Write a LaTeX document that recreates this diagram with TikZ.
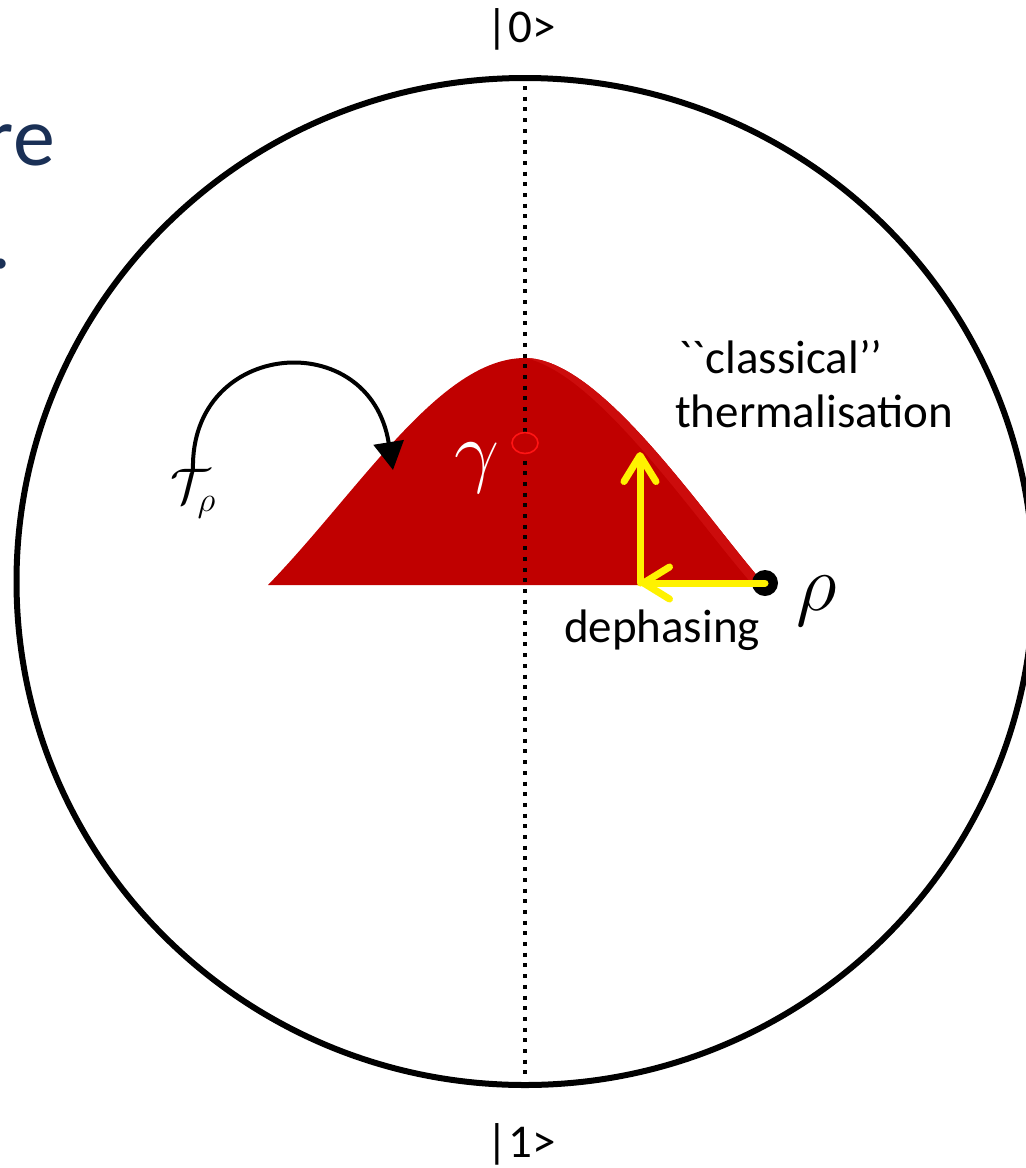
\RequirePackage{fix-cm}
\documentclass[tikz,border=0pt]{standalone}
\usepackage{amsmath}
\usepackage{fontspec}
\setmainfont{Carlito}[Ligatures=TeXOff]
\usepackage{xcolor}
\usetikzlibrary{shapes.geometric,arrows.meta,positioning,calc}

\definecolor{bellred}{RGB}{192,0,0}
\definecolor{bandred}{RGB}{204,12,12}
\definecolor{ringred}{RGB}{255,20,20}
\definecolor{titleblue}{RGB}{26,48,86}

\begin{document}
\begin{tikzpicture}[
  x=1pt, y=-1pt,
  lbl/.style={font=\fontsize{47}{54}\selectfont, inner sep=0pt},
  mathlbl/.style={font=\fontsize{80}{80}\selectfont, inner sep=0pt},
  titletxt/.style={font=\fontsize{84}{96}\selectfont, text=titleblue, inner sep=0pt},
  dotline/.style={line width=4pt, dash pattern=on 4pt off 6.7pt},
  ring/.style={ellipse, draw=ringred, fill=bellred, line width=1.6pt,
               minimum width=26pt, minimum height=21pt, inner sep=0pt},
  dot/.style={circle, fill=black, minimum size=26pt, inner sep=0pt},
  curvarr/.style={-{Triangle[length=28pt,width=30pt]}, line width=4pt, black},
  yarr/.style={-{Straight Barb[length=26pt,width=32pt,round]}, line width=7pt,
               yellow, line cap=round}
]
\useasboundingbox (0,0) rectangle (1026,1168);

\coordinate (top) at (525,86);
\coordinate (bot) at (525,1080);
\coordinate (peak) at (525,358);
\coordinate (base) at (268,585);
\coordinate (corner) at (640,583);
\coordinate (thermtip) at (640,452);
\coordinate (tend) at (393,470);

\fill[bellred] (base) .. controls (360,490) and (440,358) .. (peak)
  .. controls (600,358) and (700,510) .. (765,585) -- cycle;
\fill[bandred] (peak) .. controls (600,358) and (700,510) .. (765,585)
  -- (753,585) .. controls (692,515) and (597,373) .. (peak) -- cycle;

\draw[dotline] (top) -- (bot);
\node[ring] (gring) at (525,443) {};
\node[mathlbl, text=white] (gamma) at (477,468) {$\gamma$};

\draw[line width=6pt] (525,581.5) ellipse [x radius=508.5pt, y radius=503.5pt];

\node[font=\fontsize{50}{50}\selectfont, inner sep=0pt] (trho) at (193,494) {$\mathcal{T}_{\rho}$};
\draw[curvarr] (trho.north) .. controls (190,339) and (370,325) .. (tend);

\node[dot] (rho) at (765,583) {};
\node[mathlbl] (rholbl) at (817,601) {$\rho$};
\draw[yarr] (rho.center) -- (corner);
\draw[yarr] (corner) -- (thermtip);

\node[lbl, anchor=base] (deph) at (662,642) {dephasing};
\node[lbl, anchor=base west, align=left] (classic) at (678,373) {``classical’’};
\node[lbl, anchor=base west] (therm) at (675,427) {thermalisation};

\node[lbl, anchor=base] (ket0) at (521,42) {|0>};
\node[lbl, anchor=base] (ket1) at (521,1157) {|1>};

\node[titletxt, anchor=base east] (titlere) at (55,165) {re};
\node[titletxt, anchor=base east] (titledot) at (12,268) {.};
\end{tikzpicture}
\end{document}
